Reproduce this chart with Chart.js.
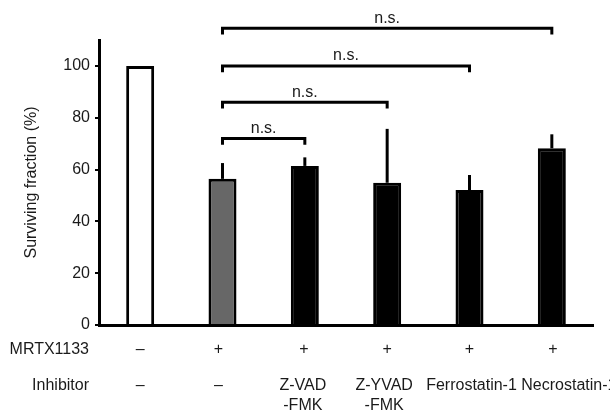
<!DOCTYPE html>
<html>
<head>
<meta charset="utf-8">
<script src="https://cdn.jsdelivr.net/npm/chart.js@4.4.0/dist/chart.umd.min.js"></script>
<style>
  html, body { margin: 0; padding: 0; background: #fff; }
  #wrap { width: 610px; height: 410px; }
</style>
</head>
<body>
<div id="wrap"><canvas id="chart" width="610" height="410"></canvas></div>
<script>
// surviving fraction data
const categories = ['Control', 'MRTX1133', 'Z-VAD-FMK', 'Z-YVAD-FMK', 'Ferrostatin-1', 'Necrostatin-1'];
const mrtxRow = ['\u2013', '+', '+', '+', '+', '+'];
const inhibitorRow = [['\u2013'], ['\u2013'], ['Z-VAD', '-FMK'], ['Z-YVAD', '-FMK'], ['Ferrostatin-1'], ['Necrostatin-1']];
const survival = [100, 56.4, 61.4, 54.9, 52.1, 68.2];
const errorUp = [0, 6.1, 3.3, 20.8, 5.8, 5.4];
const barColors = ['#ffffff', '#676767', '#000000', '#000000', '#000000', '#000000'];
const yTicks = [0, 20, 40, 60, 80, 100];

// significance brackets: [from index, to index]
const comparisons = [[1, 2], [1, 3], [1, 4], [1, 5]];
const bracketLevels = [72, 86, 100, 114.5];
const bracketLabels = ['n.s.', 'n.s.', 'n.s.', 'n.s.'];

const FAMILY = '"Liberation Sans", Arial, sans-serif';
const FONT = '16px ' + FAMILY;
const TEXT = '#1a1a1a';
// small nudges so the label columns sit as in the figure
const mrtxShift = [0, -4, -1, 0, 0, 1];
const inhibitorShift = [0, -4, -2, -3, 2, 17];

const errorBars = {
    id: 'errorBars',
    afterDatasetsDraw(chart) {
        const ctx = chart.ctx;
        const meta = chart.getDatasetMeta(0);
        const y = chart.scales.y;
        ctx.save();
        ctx.strokeStyle = '#000';
        ctx.lineWidth = 3;
        meta.data.forEach((bar, i) => {
            if (!errorUp[i]) return;
            ctx.beginPath();
            ctx.moveTo(bar.x, y.getPixelForValue(survival[i]));
            ctx.lineTo(bar.x, y.getPixelForValue(survival[i] + errorUp[i]));
            ctx.stroke();
        });
        ctx.restore();
    }
};

const brackets = {
    id: 'brackets',
    afterDraw(chart) {
        const ctx = chart.ctx;
        const x = chart.scales.x;
        const y = chart.scales.y;
        ctx.save();
        ctx.strokeStyle = '#000';
        ctx.lineWidth = 3;
        ctx.font = FONT;
        ctx.fillStyle = TEXT;
        ctx.textAlign = 'center';
        ctx.textBaseline = 'middle';
        comparisons.forEach((pair, k) => {
            const x1 = x.getPixelForValue(pair[0]);
            const x2 = x.getPixelForValue(pair[1]);
            const yl = y.getPixelForValue(bracketLevels[k]);
            const yd = y.getPixelForValue(bracketLevels[k] - 2.4);
            ctx.beginPath();
            ctx.moveTo(x1, yd);
            ctx.lineTo(x1, yl);
            ctx.lineTo(x2, yl);
            ctx.lineTo(x2, yd);
            ctx.stroke();
            ctx.fillText(bracketLabels[k], (x1 + x2) / 2, yl - 10);
        });
        ctx.restore();
    }
};

const rowLabels = {
    id: 'rowLabels',
    afterDraw(chart) {
        const ctx = chart.ctx;
        const x = chart.scales.x;
        const base = chart.chartArea.bottom;
        ctx.save();
        ctx.font = FONT;
        ctx.fillStyle = TEXT;
        ctx.textBaseline = 'middle';
        ctx.textAlign = 'right';
        ctx.fillText('MRTX1133', 89, base + 25);
        ctx.fillText('Inhibitor', 89, base + 61);
        ctx.textAlign = 'center';
        categories.forEach((c, i) => {
            const px = x.getPixelForValue(i);
            ctx.fillText(mrtxRow[i], px + mrtxShift[i], base + 25);
            inhibitorRow[i].forEach((line, j) => {
                ctx.fillText(line, px + inhibitorShift[i], base + 61 + j * 20);
            });
        });
        ctx.restore();
    }
};

new Chart(document.getElementById('chart'), {
    type: 'bar',
    data: {
        labels: categories,
        datasets: [{
            data: survival,
            backgroundColor: barColors,
            borderColor: '#000',
            borderWidth: 3,
            borderSkipped: 'start',
            barPercentage: 0.34,
            categoryPercentage: 1
        }]
    },
    options: {
        responsive: false,
        animation: false,
        layout: { padding: { top: 40, right: 17, bottom: 0, left: 0 } },
        plugins: {
            legend: { display: false },
            tooltip: { enabled: false }
        },
        scales: {
            x: {
                grid: { display: false },
                border: { display: true, color: '#000', width: 3 },
                ticks: { display: false },
                afterFit(scale) { scale.height = 85; }
            },
            y: {
                min: 0,
                max: 110,
                afterBuildTicks(scale) { scale.ticks = yTicks.map(v => ({ value: v })); },
                grid: { drawOnChartArea: false, drawTicks: true, tickLength: 4, color: '#000', lineWidth: 2 },
                border: { display: true, color: '#000', width: 3 },
                ticks: {
                    color: TEXT,
                    font: { family: FAMILY, size: 16 },
                    padding: 5
                },
                title: {
                    display: true,
                    text: 'Surviving fraction (%)',
                    color: TEXT,
                    font: { family: FAMILY, size: 16 },
                    padding: { top: 22, bottom: 0 }
                },
                afterFit(scale) { scale.width = 99; }
            }
        }
    },
    plugins: [errorBars, brackets, rowLabels]
});
</script>
</body>
</html>
